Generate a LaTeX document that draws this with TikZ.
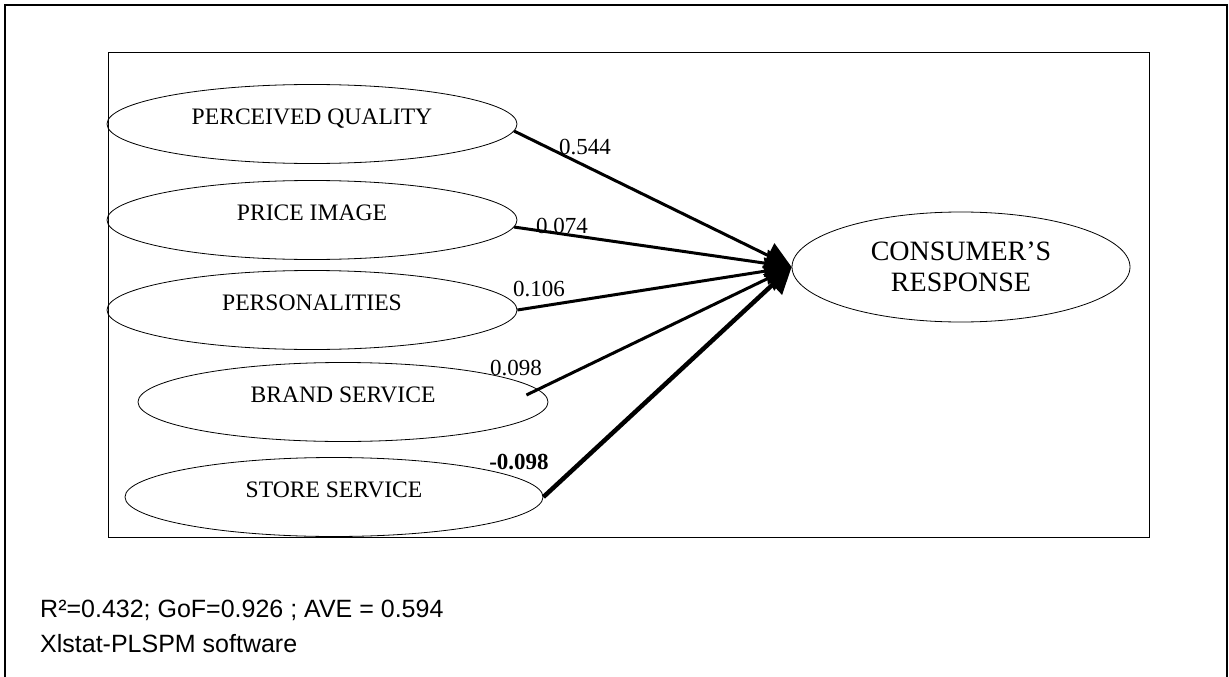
\documentclass[tikz,border=0pt]{standalone}
\usepackage{fontspec}
\setmainfont{Liberation Serif}
\newfontfamily\arialfont{Liberation Sans}
\usetikzlibrary{arrows.meta,shapes.geometric}

\begin{document}
\begin{tikzpicture}[
  x=1pt, y=-1pt,
  font=\fontsize{23}{27}\selectfont,
  latent/.style={ellipse, draw, line width=0.8pt, inner sep=0pt,
                 minimum width=410pt, minimum height=79pt,
                 font=\fontsize{23.6}{27}\selectfont,
                 text height=15pt, text depth=15pt},
  target/.style={ellipse, draw, line width=0.8pt, inner sep=0pt,
                 minimum width=338pt, minimum height=110pt, align=center,
                 font=\fontsize{28}{31}\selectfont},
  loading/.style={line width=3pt, -{Triangle[length=26pt,width=27pt]}},
  coef/.style={inner sep=0pt},
  note/.style={anchor=base west, inner sep=0pt,
               font=\arialfont\fontsize{25}{28}\selectfont}
]
\useasboundingbox (0,0) rectangle (1229,677);
% frames
\draw[line width=2pt] (4.5,677) -- (4.5,5.5) -- (1227,5.5) -- (1227,677);
\draw[line width=0.9pt] (108,52) rectangle (1149,537);
% latent variables
\node[latent] (pq) at (312,124) {PERCEIVED QUALITY};
\node[latent] (pi) at (312,220) {PRICE IMAGE};
\node[latent] (pe) at (312,310) {PERSONALITIES};
\node[latent] (bs) at (343,402) {BRAND SERVICE};
\node[latent, minimum width=418pt] (ss) at (334,497) {STORE SERVICE};
\node[target] (cr) at (961,267) {CONSUMER'S\\RESPONSE};
% paths
\draw[loading] (pq.-2) -- (cr.west);
\draw[loading] (pi.-2) -- (cr.west);
\draw[loading] (pe.east) -- (cr.west);
\draw[loading] ([xshift=-22pt,yshift=7pt]bs.east) -- (cr.west);
\draw[loading, line width=4.5pt] (ss.east) -- (cr.west);
% coefficients
\node[coef] (c1) at (585,147) {0.544};
\node[coef] (c2) at (562,226) {0.074};
\node[coef] (c3) at (539,289) {0.106};
\node[coef] (c4) at (516,368) {0.098};
\node[coef, font=\fontsize{23}{27}\selectfont\bfseries] (c5) at (519,462) {-0.098};
% fit indices
\node[note] (fit) at (40,617) {R²=0.432; GoF=0.926 ; AVE = 0.594};
\node[note] (sw) at (40,652) {Xlstat-PLSPM software};
\end{tikzpicture}
\end{document}
